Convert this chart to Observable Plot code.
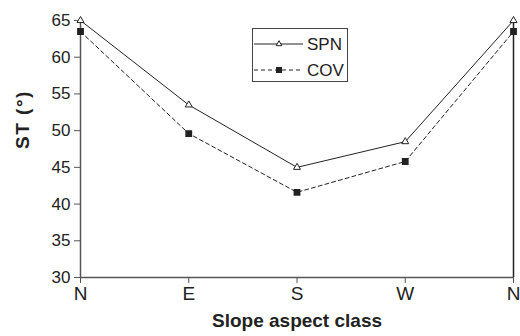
<!DOCTYPE html>
<html><head><meta charset="utf-8">
<script src="https://cdn.jsdelivr.net/npm/d3@7"></script>
<script src="https://cdn.jsdelivr.net/npm/@observablehq/plot@0.6"></script>
<style>
body{margin:0;background:#fff;font-family:"Liberation Sans",Arial,sans-serif;}
#wrap{position:relative;width:520px;height:336px;}
#legend{position:absolute;left:252px;top:28px;width:96px;height:54px;border:1px solid #444;background:#fff;box-sizing:border-box;}
</style>
</head><body>
<div id="wrap"><div id="chart"></div><div id="legend"></div></div>
<script>
const categories = ["N","E","S","W","N"];
const spn = [65, 53.5, 45, 48.5, 65];
const cov = [63.5, 49.6, 41.6, 45.8, 63.5];
const yTicks = [30,35,40,45,50,55,60,65];
const seriesNames = ["SPN","COV"];

const data = [];
categories.forEach((c,i)=>{ data.push({i, cat:c, v:spn[i], s:"SPN"}); data.push({i, cat:c, v:cov[i], s:"COV"}); });
const spnData = data.filter(d=>d.s==="SPN");
const covData = data.filter(d=>d.s==="COV");
const ink = "#222";
const axisCol = "#555";

const chart = Plot.plot({
  width:520, height:336,
  marginLeft:80, marginRight:7, marginTop:20, marginBottom:59,
  style:{fontFamily:"Liberation Sans, Arial, sans-serif", color:ink, background:"#fff"},
  x:{domain:[0,categories.length-1]},
  y:{domain:[30,65]},
  marks:[
    Plot.axisX({ticks:d3.range(categories.length), tickFormat:i=>categories[i], tickSize:6, fontSize:19, tickPadding:3, stroke:axisCol, label:null}),
    Plot.axisY({ticks:yTicks, tickSize:6, fontSize:17, tickPadding:4, stroke:axisCol, label:null}),
    Plot.ruleY([30],{stroke:axisCol, strokeWidth:1.5}),
    Plot.ruleX([0],{stroke:axisCol, strokeWidth:1.5}),
    Plot.ruleX([categories.length-1],{stroke:ink, strokeWidth:1.5}),
    Plot.line(spnData,{x:"i", y:"v", stroke:ink, strokeWidth:1}),
    Plot.line(covData,{x:"i", y:"v", stroke:ink, strokeWidth:1, strokeDasharray:"4,3"}),
    Plot.dot(spnData,{x:"i", y:"v", symbol:"triangle", r:2.6, fill:"#fff", stroke:ink, strokeWidth:1}),
    Plot.dot(covData,{x:"i", y:"v", symbol:"square", r:3, fill:ink, stroke:ink}),
    Plot.text(["Slope aspect class"],{frameAnchor:"bottom", dy:49, fontSize:19, fontWeight:"bold", fill:ink}),
    Plot.text(["ST (°)"],{frameAnchor:"left", dx:-58, rotate:-90, fontSize:19, fontWeight:"bold", fill:ink})
  ]
});
d3.select(chart).selectAll("text").filter(function(){return this.textContent==="ST (°)";}).style("letter-spacing","1.5px");
document.getElementById("chart").appendChild(chart);

// legend
const lg = d3.select("#legend").append("svg").attr("width",96).attr("height",54);
seriesNames.forEach((name,k)=>{
  const y = k===0 ? 15 : 41;
  lg.append("line").attr("x1",1).attr("x2",50).attr("y1",y).attr("y2",y).attr("stroke",ink).attr("stroke-width",1).attr("stroke-dasharray",k===0?null:"4,3");
  if(k===0){
    lg.append("path").attr("d",d3.symbol(d3.symbolTriangle, 14)()).attr("transform",`translate(26,${y})`).attr("fill","#fff").attr("stroke",ink);
  } else {
    lg.append("rect").attr("x",23).attr("y",y-3).attr("width",6).attr("height",6).attr("fill",ink);
  }
  lg.append("text").attr("x",54).attr("y",y).attr("dy","0.35em").attr("font-size",17).attr("fill",ink).text(name);
});
</script>
</body></html>
